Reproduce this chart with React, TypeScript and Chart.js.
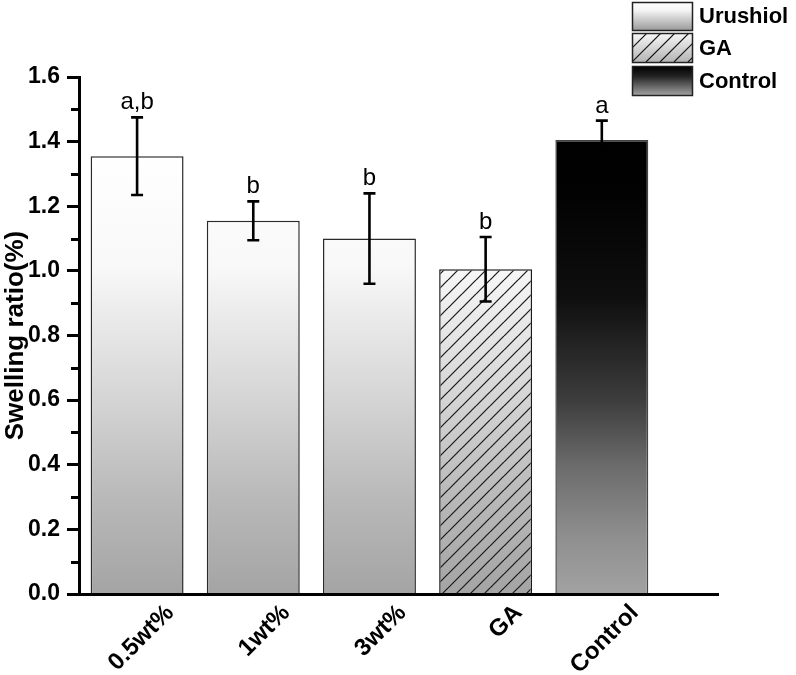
import React, { useEffect, useRef } from 'react';
import { Chart, registerables } from 'chart.js';

Chart.register(...registerables);

// ---- data ----
const categories = ['0.5wt%', '1wt%', '3wt%', 'GA', 'Control'];
const seriesNames = ['Urushiol', 'GA', 'Control'];
const urushiolValues = [1.355, 1.155, 1.1];
const urushiolErrors = [0.12, 0.06, 0.14];
const gaValues = [1.005];
const gaErrors = [0.1];
const controlValues = [1.405];
const controlErrors = [0.06];
const urushiolLetters = ['a,b', 'b', 'b'];
const gaLetters = ['b'];
const controlLetters = ['a'];
const minorTickValues = [0.1, 0.3, 0.5, 0.7, 0.9, 1.1, 1.3, 1.5];

const FONT = "'Liberation Sans', Arial, sans-serif";

function lightGradient(ctx: CanvasRenderingContext2D, top: number, bottom: number) {
  const g = ctx.createLinearGradient(0, top, 0, bottom);
  g.addColorStop(0, '#ffffff');
  g.addColorStop(0.14, '#ffffff');
  g.addColorStop(0.37, '#f8f8f8');
  g.addColorStop(0.43, '#efefef');
  g.addColorStop(0.62, '#d5d5d5');
  g.addColorStop(0.82, '#b8b8b8');
  g.addColorStop(1, '#a4a4a4');
  return g;
}

function darkGradient(ctx: CanvasRenderingContext2D, top: number, bottom: number) {
  const g = ctx.createLinearGradient(0, top, 0, bottom);
  g.addColorStop(0, '#000000');
  g.addColorStop(0.12, '#020202');
  g.addColorStop(0.35, '#0f0f0f');
  g.addColorStop(0.57, '#3c3c3c');
  g.addColorStop(0.72, '#6c6c6c');
  g.addColorStop(0.87, '#8e8e8e');
  g.addColorStop(1, '#a2a2a2');
  return g;
}

function hatchPattern(ctx: CanvasRenderingContext2D, height: number, top: number, bottom: number, step = 14) {
  const c = document.createElement('canvas');
  c.width = step;
  c.height = height;
  const cx = c.getContext('2d')!;
  cx.fillStyle = lightGradient(cx, top, bottom);
  cx.fillRect(0, 0, step, height);
  cx.strokeStyle = '#1a1a1a';
  cx.lineWidth = 1.1;
  for (let k = -2; k < height / step + 2; k++) {
    cx.beginPath();
    cx.moveTo(0, k * step + step);
    cx.lineTo(step, k * step);
    cx.stroke();
  }
  return ctx.createPattern(c, 'repeat')!;
}

const errorBarPlugin = {
  id: 'errorBars',
  afterDatasetsDraw(chart: any) {
    const ctx = chart.ctx;
    const y = chart.scales.y;
    ctx.save();
    chart.data.datasets.forEach((ds: any, di: number) => {
      const meta = chart.getDatasetMeta(di);
      meta.data.forEach((el: any, i: number) => {
        const v = ds.data[i].y;
        const e = ds.errors[i];
        const x = el.x;
        const yt = y.getPixelForValue(v + e);
        const yb = y.getPixelForValue(v - e);
        ctx.strokeStyle = '#000';
        ctx.lineWidth = 2.6;
        ctx.beginPath();
        ctx.moveTo(x, yt);
        ctx.lineTo(x, yb);
        ctx.moveTo(x - 6, yt);
        ctx.lineTo(x + 6, yt);
        ctx.moveTo(x - 6, yb);
        ctx.lineTo(x + 6, yb);
        ctx.stroke();
        ctx.fillStyle = '#000';
        ctx.font = `24px ${FONT}`;
        ctx.textAlign = 'center';
        ctx.textBaseline = 'alphabetic';
        ctx.fillText(ds.letters[i], x, yt - 8);
      });
    });
    ctx.restore();
  },
};

const minorTickPlugin = {
  id: 'minorTicks',
  afterDraw(chart: any) {
    const ctx = chart.ctx;
    const y = chart.scales.y;
    const left = chart.chartArea.left;
    ctx.save();
    ctx.strokeStyle = '#000';
    ctx.lineWidth = 3;
    minorTickValues.forEach((v) => {
      const py = Math.round(y.getPixelForValue(v)) + 0.5;
      ctx.beginPath();
      ctx.moveTo(left - 8, py);
      ctx.lineTo(left, py);
      ctx.stroke();
    });
    ctx.restore();
  },
};

const legendPlugin = {
  id: 'boxLegend',
  afterDraw(chart: any) {
    const ctx = chart.ctx;
    const boxes = [
      { y: 2, h: 28 },
      { y: 33, h: 29 },
      { y: 66, h: 29 },
    ];
    const bx = 632;
    const bw = 60;
    ctx.save();
    chart.data.datasets.forEach((ds: any, i: number) => {
      const { y, h } = boxes[i];
      let fill: any;
      if (i === 0) {
        const g = ctx.createLinearGradient(0, y, 0, y + h);
        g.addColorStop(0, '#ffffff');
        g.addColorStop(0.3, '#f4f4f4');
        g.addColorStop(1, '#9c9c9c');
        fill = g;
      } else if (i === 1) {
        const g = ctx.createLinearGradient(0, y, 0, y + h);
        g.addColorStop(0, '#f8f8f8');
        g.addColorStop(1, '#b4b4b4');
        fill = g;
      } else {
        const g = ctx.createLinearGradient(0, y, 0, y + h);
        g.addColorStop(0, '#000000');
        g.addColorStop(0.35, '#222222');
        g.addColorStop(1, '#a0a0a0');
        fill = g;
      }
      ctx.fillStyle = fill;
      ctx.fillRect(bx, y, bw, h);
      if (i === 1) {
        ctx.save();
        ctx.beginPath();
        ctx.rect(bx, y, bw, h);
        ctx.clip();
        ctx.strokeStyle = '#111';
        ctx.lineWidth = 1.1;
        for (let k = -3; k < 8; k++) {
          const x0 = bx + k * 14;
          ctx.beginPath();
          ctx.moveTo(x0, y + h);
          ctx.lineTo(x0 + h, y);
          ctx.stroke();
        }
        ctx.restore();
      }
      ctx.strokeStyle = '#222';
      ctx.lineWidth = 1.5;
      ctx.strokeRect(bx + 0.5, y + 0.5, bw, h);
      ctx.fillStyle = '#000';
      ctx.font = `bold 22px ${FONT}`;
      ctx.textAlign = 'left';
      ctx.textBaseline = 'middle';
      ctx.fillText(ds.label, 699, y + h / 2 + 1);
    });
    ctx.restore();
  },
};

export default function App() {
  const ref = useRef<HTMLCanvasElement | null>(null);

  useEffect(() => {
    document.body.style.margin = '0';
    const canvas = ref.current!;
    const lightFill = (c: any) => {
      const chart = c.chart;
      const ca = chart.chartArea;
      if (!ca) return '#dddddd';
      return lightGradient(chart.ctx, ca.top, ca.bottom);
    };
    const darkFill = (c: any) => {
      const chart = c.chart;
      const ca = chart.chartArea;
      if (!ca) return '#333333';
      const top = chart.scales.y.getPixelForValue(controlValues[0]);
      return darkGradient(chart.ctx, top, ca.bottom);
    };
    const hatchFill = (c: any) => {
      const chart = c.chart;
      const ca = chart.chartArea;
      if (!ca) return '#cccccc';
      return hatchPattern(chart.ctx, chart.height, ca.top, ca.bottom);
    };

    const chart = new Chart(canvas, {
      type: 'bar',
      data: {
        datasets: [
          {
            label: seriesNames[0],
            data: urushiolValues.map((v, i) => ({ x: i + 1, y: v })),
            errors: urushiolErrors,
            letters: urushiolLetters,
            backgroundColor: lightFill,
            borderColor: '#2a2a2a',
            borderWidth: 1.5,
            grouped: false,
          } as any,
          {
            label: seriesNames[1],
            data: gaValues.map((v) => ({ x: 4, y: v })),
            errors: gaErrors,
            letters: gaLetters,
            backgroundColor: hatchFill,
            borderColor: '#1a1a1a',
            borderWidth: 1.5,
            grouped: false,
          } as any,
          {
            label: seriesNames[2],
            data: controlValues.map((v) => ({ x: 5, y: v })),
            errors: controlErrors,
            letters: controlLetters,
            backgroundColor: darkFill,
            borderColor: '#444444',
            borderWidth: 1.5,
            grouped: false,
          } as any,
        ],
      },
      options: {
        animation: false,
        responsive: false,
        maintainAspectRatio: false,
        barPercentage: 0.8,
        categoryPercentage: 1,
        layout: { padding: { top: 77, right: 78, bottom: 0, left: 0 } },
        plugins: {
          legend: { display: false },
          tooltip: { enabled: false },
        },
        scales: {
          x: {
            type: 'linear',
            min: 0.5,
            max: 6,
            offset: false,
            afterBuildTicks: (scale: any) => {
              scale.ticks = categories.map((_, i) => ({ value: i + 1 }));
            },
            afterFit: (scale: any) => {
              scale.height = 81;
            },
            grid: { display: false, drawTicks: false, offset: false },
            border: { display: true, color: '#000', width: 3, z: 1 },
            ticks: {
              autoSkip: false,
              minRotation: 45,
              maxRotation: 45,
              padding: 5,
              labelOffset: 33,
              color: '#000',
              font: { family: FONT, size: 24, weight: 'bold' },
              callback: (v: any) => categories[Math.round(Number(v)) - 1] ?? '',
            },
          },
          y: {
            min: 0,
            max: 1.6,
            afterFit: (scale: any) => {
              scale.width = 79;
            },
            grid: {
              drawOnChartArea: false,
              drawTicks: true,
              tickLength: 12,
              tickWidth: 3,
              tickColor: '#000',
            },
            border: { display: true, color: '#000', width: 3, z: 1 },
            ticks: {
              stepSize: 0.2,
              padding: 7,
              color: '#000',
              font: { family: FONT, size: 23, weight: 'bold' },
              callback: (v: any) => Number(v).toFixed(1),
            },
            title: {
              display: true,
              text: 'Swelling ratio(%)',
              color: '#000',
              font: { family: FONT, size: 26, weight: 'bold' },
              padding: { top: 0, bottom: 0 },
            },
          },
        },
      } as any,
      plugins: [errorBarPlugin, minorTickPlugin, legendPlugin],
    });
    return () => chart.destroy();
  }, []);

  return (
    <div style={{ width: 796, height: 675, background: '#fff' }}>
      <canvas ref={ref} width={796} height={675} style={{ display: 'block' }} />
    </div>
  );
}
